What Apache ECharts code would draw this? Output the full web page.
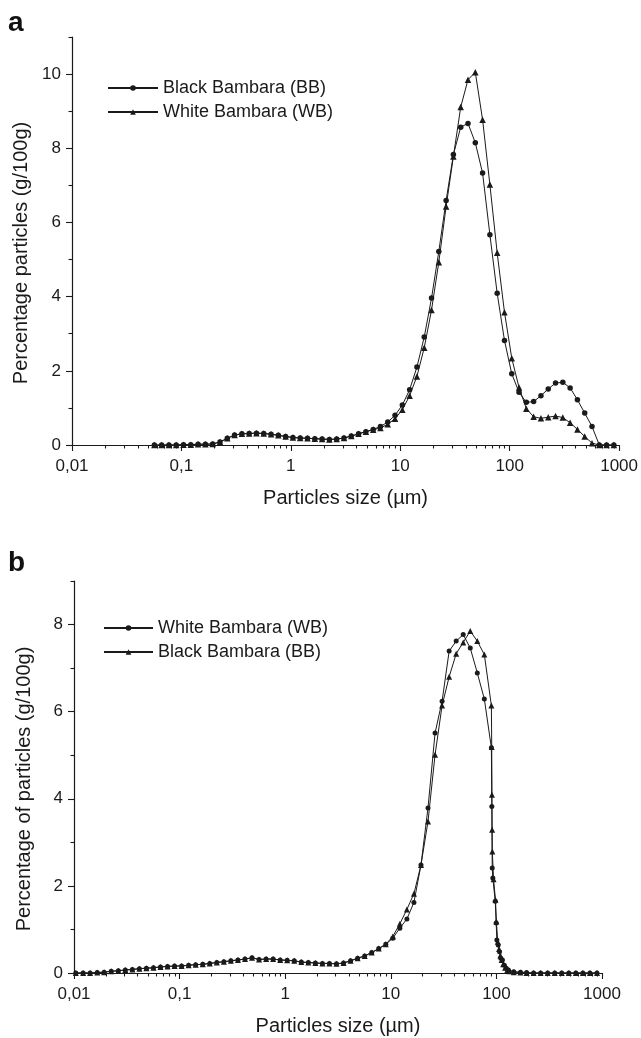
<!DOCTYPE html>
<html><head><meta charset="utf-8">
<script src="https://cdn.jsdelivr.net/npm/echarts@6/dist/echarts.min.js"></script>
<style>html,body{margin:0;padding:0;background:#fff}#c{width:641px;height:1038px}</style>
</head><body><div id="c"></div>
<script>
// ---------- Panel a data ----------
const sizeA = [0.0566, 0.0659, 0.0769, 0.0896,
  0.1045, 0.1218, 0.142, 0.1656, 0.1931, 0.2251, 0.2625, 0.306, 0.3569, 0.416, 0.4851, 0.5656, 0.6594, 0.7687, 0.8963,
  1.045, 1.218, 1.42, 1.656, 1.931, 2.251, 2.625, 3.06, 3.569, 4.16, 4.851, 5.656, 6.594, 7.687, 8.963,
  10.45, 12.18, 14.2, 16.56, 19.31, 22.51, 26.25, 30.6, 35.69, 41.6, 48.51, 56.56, 65.94, 76.87, 89.63,
  104.5, 121.8, 142, 165.6, 193.1, 225.1, 262.5, 306, 356.9, 416, 485.1, 565.6, 659.4, 768.7, 896.3];
const bbA = [0, 0, 0, 0,
  0.01, 0.01, 0.02, 0.02, 0.03, 0.08, 0.18, 0.27, 0.3, 0.31, 0.32, 0.31, 0.29, 0.26, 0.23,
  0.2, 0.19, 0.18, 0.17, 0.16, 0.15, 0.16, 0.19, 0.24, 0.3, 0.36, 0.42, 0.5, 0.62, 0.8,
  1.08, 1.49, 2.1, 2.91, 3.96, 5.22, 6.59, 7.83, 8.57, 8.67, 8.15, 7.33, 5.67, 4.09, 2.82,
  1.92, 1.42, 1.15, 1.17, 1.33, 1.51, 1.67, 1.69, 1.54, 1.22, 0.86, 0.5, 0, 0, 0];
const wbA = [0, 0, 0, 0,
  0.01, 0.01, 0.02, 0.02, 0.03, 0.08, 0.18, 0.27, 0.3, 0.31, 0.32, 0.31, 0.29, 0.26, 0.23,
  0.2, 0.19, 0.18, 0.17, 0.16, 0.15, 0.16, 0.19, 0.24, 0.3, 0.36, 0.41, 0.46, 0.56, 0.71,
  0.95, 1.33, 1.85, 2.62, 3.64, 4.93, 6.43, 7.78, 9.11, 9.85, 10.05, 8.77, 7.02, 5.18, 3.58,
  2.34, 1.55, 0.98, 0.76, 0.72, 0.75, 0.78, 0.74, 0.6, 0.42, 0.23, 0.05, 0, 0, 0];

// ---------- Panel b data ----------
const sizeBLow = [0.0104, 0.0122, 0.0142, 0.0166, 0.0193, 0.0225, 0.0263, 0.0306, 0.0357, 0.0416, 0.0485,
  0.0566, 0.0659, 0.0769, 0.0896,
  0.1045, 0.1218, 0.142, 0.1656, 0.1931, 0.2251, 0.2625, 0.306, 0.3569, 0.416, 0.4851, 0.5656, 0.6594, 0.7687, 0.8963,
  1.045, 1.218, 1.42, 1.656, 1.931, 2.251, 2.625, 3.06, 3.569, 4.16, 4.851, 5.656, 6.594, 7.687, 8.963];
const lowB = [0, 0, 0, 0.01, 0.02, 0.04, 0.05, 0.07, 0.08, 0.10, 0.11,
  0.12, 0.14, 0.15, 0.16,
  0.16, 0.18, 0.19, 0.20, 0.22, 0.24, 0.26, 0.28, 0.30, 0.32, 0.35, 0.31, 0.32, 0.32, 0.30,
  0.29, 0.28, 0.25, 0.24, 0.23, 0.22, 0.22, 0.21, 0.23, 0.28, 0.34, 0.39, 0.47, 0.56, 0.66];
const wbBx = [10.45, 12.18, 14.2, 16.56, 19.31, 22.51, 26.25, 30.6, 35.69, 41.6, 48.51, 56.56, 65.94, 76.87, 89.63,
  90.5, 91.3, 92.5, 97.5, 99.5, 101, 104, 107, 110, 114, 119, 124, 130,
  146, 169, 193.1, 225.1, 262.5, 306, 356.9, 416, 485.1, 565.6, 659.4, 768.7, 896.3];
const wbBy = [0.80, 1.03, 1.24, 1.62, 2.48, 3.79, 5.51, 6.24, 7.39, 7.62, 7.77, 7.46, 6.89, 6.29, 5.17,
  3.82, 2.41, 2.18, 1.65, 1.15, 0.76, 0.64, 0.49, 0.34, 0.30, 0.18, 0.11, 0.07,
  0.03, 0.02, 0.01, 0, 0, 0, 0, 0, 0, 0, 0, 0, 0];
const bbBx = [10.45, 12.18, 14.2, 16.56, 19.31, 22.51, 26.25, 30.6, 35.69, 41.6, 48.51, 56.56, 65.94, 76.87, 89.63,
  90.3, 90.7, 91.1, 91.5, 94, 98, 100, 103, 106, 109, 112, 116, 121, 127, 133,
  146, 169, 193.1, 225.1, 262.5, 306, 356.9, 416, 485.1, 565.6, 659.4, 768.7, 896.3];
const bbBy = [0.84, 1.13, 1.46, 1.82, 2.48, 3.48, 5.01, 6.14, 6.80, 7.33, 7.59, 7.85, 7.62, 7.31, 6.14,
  5.19, 4.09, 3.29, 2.79, 2.15, 1.68, 1.18, 0.72, 0.55, 0.40, 0.30, 0.20, 0.12, 0.07, 0.04,
  0.02, 0.01, 0, 0, 0, 0, 0, 0, 0, 0, 0, 0, 0];

// ---------- tick values ----------
const yTicksA = [0, 2, 4, 6, 8, 10];
const yMinorA = [1, 3, 5, 7, 9, 11];
const yTicksB = [0, 2, 4, 6, 8];
const yMinorB = [1, 3, 5, 7, 9];
const decadeExps = [-2, -1, 0, 1, 2];
const minorMult = [2, 3, 4, 5, 6, 7, 8, 9];

const minorXs = [];
decadeExps.forEach(d => minorMult.forEach(k => minorXs.push(d + Math.log10(k))));

const zip = (xs, ys) => xs.map((x, i) => [x, ys[i]]);
const FONT = 'Liberation Sans, Arial, Helvetica, sans-serif';
const INK = '#1a1a1a';

function mainX(g, gap) {
  return {
    type: 'log', logBase: 10, gridIndex: g, min: 0.01, max: 1000, position: 'bottom',
    axisLine: { onZero: false, lineStyle: { color: INK, width: 1.2 } },
    axisTick: { length: 6, lineStyle: { color: INK, width: 1.1 } },
    axisLabel: { fontSize: 17, color: INK, margin: 13, fontFamily: FONT,
      formatter: v => String(v).replace('.', ',') },
    splitLine: { show: false },
    name: 'Particles size (µm)', nameLocation: 'middle', nameGap: gap,
    nameTextStyle: { fontSize: 20, color: INK, fontFamily: FONT }
  };
}
function minorX(g) {
  return {
    type: 'value', gridIndex: g, min: -2, max: 3, position: 'bottom',
    axisLine: { show: false, onZero: false }, axisLabel: { show: false }, splitLine: { show: false },
    axisTick: { show: true, length: 3.5, customValues: minorXs, lineStyle: { color: INK, width: 1.1 } }
  };
}
function mainY(g, max, ticks, name, shift) {
  return {
    type: 'value', gridIndex: g, min: 0, max: max, position: 'left',
    axisLine: { show: true, onZero: false, lineStyle: { color: INK, width: 1.2 } },
    axisTick: { show: true, length: 6, customValues: ticks, lineStyle: { color: INK, width: 1.1 } },
    axisLabel: { customValues: ticks, fontSize: 17, color: INK, margin: 11, fontFamily: FONT },
    splitLine: { show: false },
    name: name, nameLocation: 'middle', nameGap: 40,
    nameTextStyle: { fontSize: 20, color: INK, fontFamily: FONT, padding: [0, shift, 0, 0] }
  };
}
function minorY(g, max, ticks) {
  return {
    type: 'value', gridIndex: g, min: 0, max: max, position: 'left',
    axisLine: { show: false, onZero: false }, axisLabel: { show: false }, splitLine: { show: false },
    axisTick: { show: true, length: 3.5, customValues: ticks, lineStyle: { color: INK, width: 1.1 } }
  };
}
function line(name, xi, yi, data, sym, size) {
  return {
    name: name, type: 'line', xAxisIndex: xi, yAxisIndex: yi, data: data,
    symbol: sym, symbolSize: size, showSymbol: true,
    lineStyle: { color: INK, width: 1 }, itemStyle: { color: INK },
    emphasis: { disabled: true }, silent: true
  };
}

const chart = echarts.init(document.getElementById('c'), null, { renderer: 'canvas' });
chart.setOption({
  animation: false,
  backgroundColor: '#fff',
  textStyle: { fontFamily: FONT },
  title: [
    { text: 'a', left: 8, top: 9, padding: 0, textStyle: { fontSize: 28, fontWeight: 'bold', color: '#111', fontFamily: FONT } },
    { text: 'b', left: 8, top: 549, padding: 0, textStyle: { fontSize: 28, fontWeight: 'bold', color: '#111', fontFamily: FONT } }
  ],
  grid: [
    { left: 72, top: 37, width: 551, height: 408 },
    { left: 74, top: 581, width: 528, height: 392 }
  ],
  xAxis: [mainX(0, 43), minorX(0), mainX(1, 43), minorX(1)],
  yAxis: [
    mainY(0, 11, yTicksA, 'Percentage particles (g/100g)', 24), minorY(0, 11, yMinorA),
    mainY(1, 9, yTicksB, 'Percentage of particles (g/100g)', 24), minorY(1, 9, yMinorB)
  ],
  legend: [
    { data: ['Black Bambara (BB)', 'White Bambara (WB)'], orient: 'vertical', left: 107, top: 79,
      itemWidth: 50, itemHeight: 7, itemGap: 6, padding: 0, selectedMode: false,
      textStyle: { fontSize: 18, color: INK, fontFamily: FONT } },
    { data: ['White Bambara (WB) ', 'Black Bambara (BB) '], orient: 'vertical', left: 103, top: 619,
      itemWidth: 49, itemHeight: 7, itemGap: 6, padding: 0, selectedMode: false,
      textStyle: { fontSize: 18, color: INK, fontFamily: FONT } }
  ],
  series: [
    line('Black Bambara (BB)', 0, 0, zip(sizeA, bbA), 'circle', 5.5),
    line('White Bambara (WB)', 0, 0, zip(sizeA, wbA), 'triangle', 6.5),
    line('White Bambara (WB) ', 2, 2, zip(sizeBLow, lowB).concat(zip(wbBx, wbBy)), 'circle', 5),
    line('Black Bambara (BB) ', 2, 2, zip(sizeBLow, lowB).concat(zip(bbBx, bbBy)), 'triangle', 6)
  ]
});
</script></body></html>
